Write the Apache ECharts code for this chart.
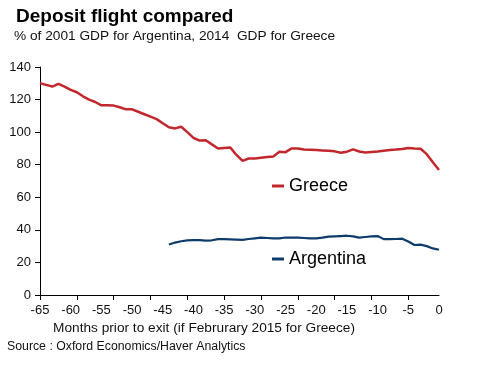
<!DOCTYPE html>
<html>
<head>
<meta charset="utf-8">
<script src="https://cdn.jsdelivr.net/npm/echarts@6/dist/echarts.min.js"></script>
<style>
html,body{margin:0;padding:0;background:#fff;}
#chart{width:489px;height:366px;}
</style>
</head>
<body>
<div id="chart"></div>
<script>
var titleText = 'Deposit flight compared';
var subtitleText = '% of 2001 GDP for Argentina, 2014  GDP for Greece';
var xAxisTitle = 'Months prior to exit (if Februrary 2015 for Greece)';
var sourceText = 'Source : Oxford Economics/Haver Analytics';

var greeceMonths = [-65,-64,-63,-62,-61,-60,-59,-58,-57,-56,-55,-54,-53,-52,-51,-50,-49,-48,-47,-46,-45,-44,-43,-42,-41,-40,-39,-38,-37,-36,-35,-34,-33,-32,-31,-30,-29,-28,-27,-26,-25,-24,-23,-22,-21,-20,-19,-18,-17,-16,-15,-14,-13,-12,-11,-10,-9,-8,-7,-6,-5,-4,-3,-2,-1,0];
var greeceValues = [130,129,128,129.6,128,126,124.5,122,120,118.5,116.5,116.5,116.3,115.3,114,114,112.5,111,109.5,108,105.5,103,102.3,103.3,100,96.5,94.8,95,92.5,90,90.3,90.6,86,82.4,83.8,83.8,84.3,84.7,85.1,87.9,87.7,90,90,89.3,89.2,89,88.8,88.6,88.2,87.4,88,89.4,88.1,87.5,87.8,88.1,88.6,89,89.3,89.7,90.3,90,89.8,86.5,81.5,76.7];

var argentinaMonths = [-44,-43,-42,-41,-40,-39,-38,-37,-36,-35,-34,-33,-32,-31,-30,-29,-28,-27,-26,-25,-24,-23,-22,-21,-20,-19,-18,-17,-16,-15,-14,-13,-12,-11,-10,-9,-8,-7,-6,-5,-4,-3,-2,-1,0];
var argentinaValues = [31,32.2,33,33.5,33.7,33.7,33.4,33.6,34.3,34.3,34.2,34,33.8,34.4,34.8,35.2,35,34.8,34.8,35.3,35.2,35.2,35,34.8,34.8,35.2,35.8,36,36.2,36.4,36,35.2,35.6,36,36.2,34.3,34.3,34.4,34.6,32.8,30.7,30.9,30,28.6,27.8];

var seriesNames = ['Greece', 'Argentina'];
var yTicks = [0, 20, 40, 60, 80, 100, 120, 140];
var xTickLabels = ['-65','-60','-55','-50','-45','-40','-35','-30','-25','-20','-15','-10','-5','0'];

function pairs(xs, ys) { return xs.map(function (x, i) { return [x, ys[i]]; }); }

var chart = echarts.init(document.getElementById('chart'));
var FONT = 'Liberation Sans, Arial, sans-serif';
var option = {
  backgroundColor: '#ffffff',
  animation: false,
  textStyle: { fontFamily: FONT },
  grid: { left: 40, right: 50, top: 67, bottom: 71, containLabel: false },
  xAxis: [{
    type: 'value', position: 'bottom',
    min: -65, max: 0, interval: 5,
    axisLine: { show: true, onZero: false, lineStyle: { color: '#000', width: 1 } },
    axisTick: { show: false },
    splitLine: { show: false },
    axisLabel: { color: '#111', fontSize: 13, fontFamily: FONT, margin: 9,
      formatter: function (v) { var i = Math.round((v + 65) / 5); return xTickLabels[i] !== undefined ? xTickLabels[i] : String(v); } }
  }, {
    type: 'category', position: 'bottom', data: greeceMonths.map(String),
    boundaryGap: false,
    axisLine: { show: false, onZero: false },
    axisTick: { show: true, interval: 5, length: 5, lineStyle: { color: '#000', width: 1 } },
    axisLabel: { show: false },
    splitLine: { show: false }
  }],
  yAxis: {
    type: 'value', position: 'left', min: yTicks[0], max: yTicks[yTicks.length - 1], interval: 20,
    axisLine: { show: true, onZero: false, lineStyle: { color: '#000', width: 1 } },
    axisTick: { show: true, length: 5, lineStyle: { color: '#000' } },
    splitLine: { show: false },
    axisLabel: { color: '#111', fontSize: 13, fontFamily: FONT, margin: 9 }
  },
  legend: [{
    data: [seriesNames[0]], left: 272, top: 176, padding: 0, icon: 'rect', itemWidth: 12, itemHeight: 3,
    textStyle: { fontSize: 18, color: '#000', fontFamily: FONT, lineHeight: 20 }
  }, {
    data: [seriesNames[1]], left: 272, top: 249, padding: 0, icon: 'rect', itemWidth: 12, itemHeight: 3,
    textStyle: { fontSize: 18, color: '#000', fontFamily: FONT, lineHeight: 20 }
  }],
  series: [{
    name: seriesNames[0], type: 'line', xAxisIndex: 0,
    data: pairs(greeceMonths, greeceValues),
    showSymbol: false, symbol: 'none',
    lineStyle: { color: '#C1272D', width: 2.5 }, itemStyle: { color: '#C1272D' }
  }, {
    name: seriesNames[1], type: 'line', xAxisIndex: 0,
    data: pairs(argentinaMonths, argentinaValues),
    showSymbol: false, symbol: 'none',
    lineStyle: { color: '#0D3B6B', width: 2.2 }, itemStyle: { color: '#0D3B6B' }
  }],
  graphic: [
    { type: 'text', left: 16, top: 7, style: { text: titleText, font: 'bold 19px ' + FONT, fill: '#000' } },
    { type: 'text', left: 14, top: 29, style: { text: subtitleText, font: '13.7px ' + FONT, fill: '#111' } },
    { type: 'text', left: 53, top: 321, style: { text: xAxisTitle, font: '13.7px ' + FONT, fill: '#111' } },
    { type: 'text', left: 7, top: 341, style: { text: sourceText, font: '12.3px ' + FONT, fill: '#111' } }
  ]
};
chart.setOption(option);
</script>
</body>
</html>
